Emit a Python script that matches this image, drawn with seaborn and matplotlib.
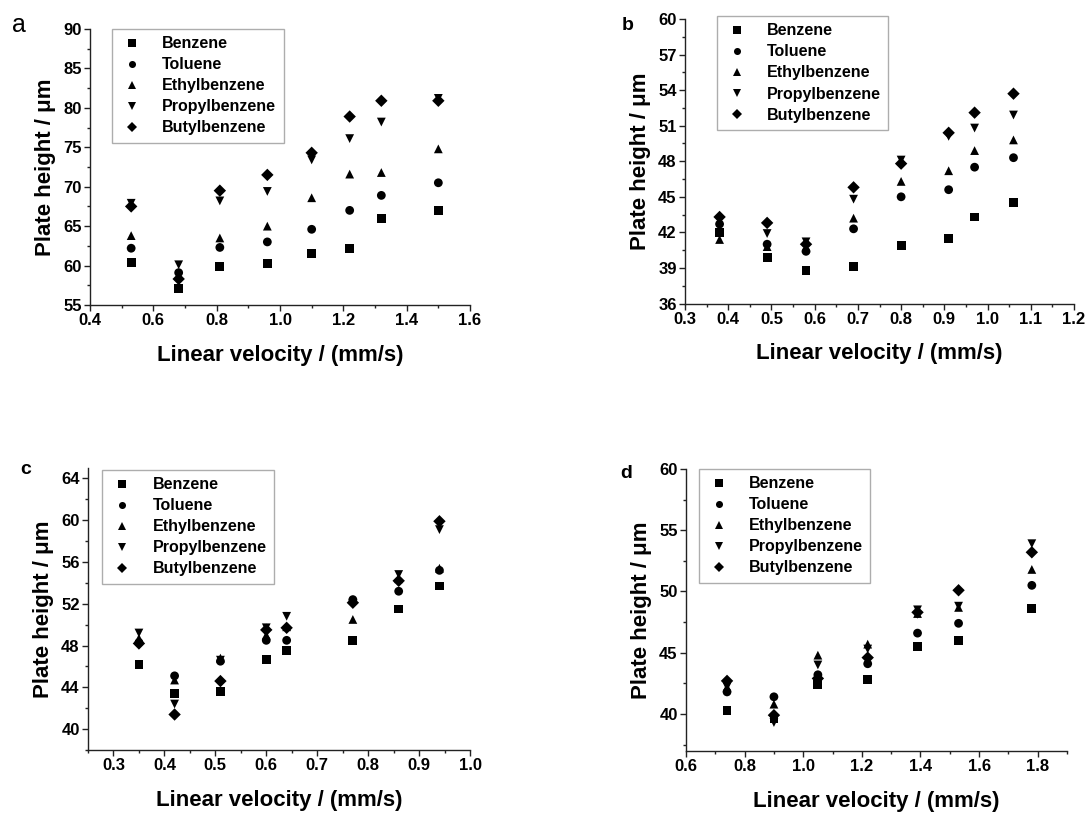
import matplotlib
matplotlib.use("Agg")
import matplotlib.pyplot as plt
from matplotlib.ticker import MultipleLocator
import seaborn as sns
import pandas as pd

compounds = ["Benzene", "Toluene", "Ethylbenzene", "Propylbenzene", "Butylbenzene"]

# Panel a
a_velocity = [0.53, 0.68, 0.81, 0.96, 1.10, 1.22, 1.32, 1.50]
a_benzene = [60.4, 57.1, 59.9, 60.3, 61.5, 62.2, 66.0, 67.0]
a_toluene = [62.2, 59.1, 62.3, 63.0, 64.6, 67.0, 68.9, 70.5]
a_ethyl = [63.8, 58.7, 63.5, 65.0, 68.6, 71.6, 71.8, 74.8]
a_propyl = [67.9, 60.1, 68.2, 69.4, 73.4, 76.1, 78.2, 81.2]
a_butyl = [67.5, 58.3, 69.5, 71.5, 74.3, 78.9, 80.9, 80.9]

# Panel b
b_velocity = [0.38, 0.49, 0.58, 0.69, 0.80, 0.91, 0.97, 1.06]
b_benzene = [42.0, 39.9, 38.8, 39.1, 40.9, 41.5, 43.3, 44.5]
b_toluene = [42.7, 41.0, 40.4, 42.3, 45.0, 45.6, 47.5, 48.3]
b_ethyl = [41.4, 40.8, 40.7, 43.2, 46.3, 47.2, 48.9, 49.8]
b_propyl = [43.0, 41.9, 41.2, 44.8, 48.1, 50.1, 50.8, 51.9]
b_butyl = [43.3, 42.8, 41.0, 45.8, 47.8, 50.4, 52.1, 53.7]

# Panel c
c_velocity = [0.35, 0.42, 0.51, 0.60, 0.64, 0.77, 0.86, 0.94]
c_benzene = [46.2, 43.4, 43.6, 46.7, 47.5, 48.5, 51.5, 53.7]
c_toluene = [48.3, 45.1, 46.5, 48.5, 48.5, 52.4, 53.2, 55.2]
c_ethyl = [48.7, 44.7, 46.8, 49.0, 49.8, 50.5, 54.4, 55.4]
c_propyl = [49.2, 42.4, 46.6, 49.7, 50.8, 52.0, 54.8, 59.1]
c_butyl = [48.2, 41.4, 44.6, 49.5, 49.7, 52.1, 54.2, 59.9]

# Panel d
d_velocity = [0.74, 0.90, 1.05, 1.22, 1.39, 1.53, 1.78]
d_benzene = [40.3, 39.6, 42.4, 42.8, 45.5, 46.0, 48.6]
d_toluene = [41.8, 41.4, 43.2, 44.1, 46.6, 47.4, 50.5]
d_ethyl = [42.2, 40.8, 44.8, 45.7, 48.2, 48.7, 51.8]
d_propyl = [42.2, 39.3, 44.0, 45.3, 48.5, 48.8, 53.9]
d_butyl = [42.7, 39.9, 42.9, 44.6, 48.3, 50.1, 53.2]

panels = {
    "a": (a_velocity, [a_benzene, a_toluene, a_ethyl, a_propyl, a_butyl]),
    "b": (b_velocity, [b_benzene, b_toluene, b_ethyl, b_propyl, b_butyl]),
    "c": (c_velocity, [c_benzene, c_toluene, c_ethyl, c_propyl, c_butyl]),
    "d": (d_velocity, [d_benzene, d_toluene, d_ethyl, d_propyl, d_butyl]),
}

sns.set_theme(style="ticks")
plt.rcParams["font.family"] = ["Liberation Sans", "DejaVu Sans"]
plt.rcParams["font.weight"] = "bold"
plt.rcParams["axes.labelweight"] = "bold"
plt.rcParams["text.color"] = "black"
plt.rcParams["axes.labelcolor"] = "black"
plt.rcParams["xtick.color"] = "black"
plt.rcParams["ytick.color"] = "black"

fig = plt.figure(figsize=(10.89, 8.14), dpi=100)
W, H = 1089, 814
boxes = {
    "a": (90, 470, 29, 305),
    "b": (685, 1074, 19, 303.5),
    "c": (88, 470, 468, 750),
    "d": (686, 1067, 469, 750.7),
}
limits = {
    "a": ((0.4, 1.6), (55, 90), 0.2, 0.1, 5, 2.5),
    "b": ((0.3, 1.2), (36, 60), 0.1, 0.05, 3, 1.5),
    "c": ((0.25, 1.0), (38, 65), 0.1, 0.05, 4, 2),
    "d": ((0.6, 1.9), (37, 60), 0.2, 0.1, 5, 2.5),
}
legend_anchor = {"a": (0.058, 1.0), "b": (0.082, 1.01), "c": (0.037, 0.993), "d": (0.034, 1.0)}
letter_pos = {"a": (12, 32), "b": (622, 30), "c": (20, 474), "d": (620, 478)}
markers = {"Benzene": "s", "Toluene": "o", "Ethylbenzene": "^",
           "Propylbenzene": "v", "Butylbenzene": "D"}

for key, (vel, series) in panels.items():
    l, r, t, b = boxes[key]
    ax = fig.add_axes([l / W, 1 - b / H, (r - l) / W, (b - t) / H])
    rows = []
    for name, vals in zip(compounds, series):
        for v, h in zip(vel, vals):
            rows.append({"Velocity": v, "Height": h, "Compound": name})
    df = pd.DataFrame(rows)
    sns.scatterplot(data=df, x="Velocity", y="Height", style="Compound",
                    style_order=compounds, markers=markers, color="black",
                    s=40, edgecolor="black", linewidth=0, ax=ax, legend=True)
    (xl, yl, xmaj, xmin, ymaj, ymin) = limits[key]
    ax.set_xlim(*xl)
    ax.set_ylim(*yl)
    ax.xaxis.set_major_locator(MultipleLocator(xmaj))
    ax.xaxis.set_minor_locator(MultipleLocator(xmin))
    ax.yaxis.set_major_locator(MultipleLocator(ymaj))
    ax.yaxis.set_minor_locator(MultipleLocator(ymin))
    ax.xaxis.set_major_formatter(plt.FormatStrFormatter("%.1f"))
    ax.yaxis.set_major_formatter(plt.FormatStrFormatter("%d"))
    for sp in ["top", "right"]:
        ax.spines[sp].set_visible(False)
    for sp in ["left", "bottom"]:
        ax.spines[sp].set_color("#222222")
        ax.spines[sp].set_linewidth(1.0)
    ax.tick_params(which="major", direction="out", length=4, width=1.0,
                   labelsize=12, color="#222222", labelcolor="black", pad=2)
    ax.tick_params(which="minor", direction="out", length=2.5, width=1.0, color="#222222")
    for lab in ax.get_xticklabels() + ax.get_yticklabels():
        lab.set_fontweight("bold")
    ax.set_xlabel("Linear velocity / (mm/s)", fontsize=16, fontweight="bold",
                  labelpad=12, color="black")
    ax.set_ylabel("Plate height / μm", fontsize=16, fontweight="bold",
                  labelpad=5, color="black")
    handles, labels = ax.get_legend_handles_labels()
    leg = ax.legend(handles, labels, loc="upper left", bbox_to_anchor=legend_anchor[key],
                    frameon=True, fancybox=False, edgecolor="#999999",
                    prop={"weight": "bold", "size": 11.5}, handlelength=1.6,
                    handletextpad=1.1, labelspacing=0.38, borderpad=0.45,
                    borderaxespad=0.0, markerscale=0.8)
    leg.get_frame().set_linewidth(1.0)
    for txt in leg.get_texts():
        txt.set_color("black")
    x, y = letter_pos[key]
    if key == "a":
        fig.text(x / W, 1 - y / H, "a", fontsize=18, fontweight="normal",
                 ha="left", va="baseline", color="black")
    else:
        fig.text(x / W, 1 - y / H, key, fontsize=14, fontweight="bold",
                 ha="left", va="baseline", color="black")

fig.savefig("out.png", dpi=100)
